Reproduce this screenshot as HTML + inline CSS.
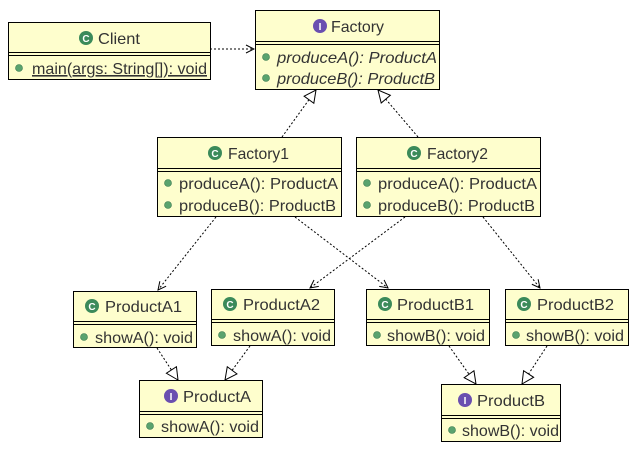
<!DOCTYPE html>
<html><head><style>body{margin:0;background:#fff}svg{display:block}text{font-family:"Liberation Sans",sans-serif;font-size:16px;fill:#333}</style></head><body>
<svg width="636" height="450" xmlns="http://www.w3.org/2000/svg">
<defs>
<marker id="tri" viewBox="0 0 14 14" refX="13" refY="7" markerWidth="14" markerHeight="14" markerUnits="userSpaceOnUse" orient="auto"><path d="M1,1 L13,7 L1,13 Z" fill="#fff" stroke="#000" stroke-width="1"/></marker>
<marker id="open" viewBox="0 0 10 10" refX="9" refY="5" markerWidth="10" markerHeight="10" markerUnits="userSpaceOnUse" orient="auto"><path d="M1,1 L9,5 L1,9" fill="none" stroke="#000" stroke-width="1"/></marker>
<g id="ci"><circle r="7" fill="#3b8a5a"/><text x="0" y="4" text-anchor="middle" style="font-size:10px;font-weight:bold;fill:#fff">C</text></g>
<g id="ii"><circle r="7" fill="#6a4fb0"/><text x="0" y="4" text-anchor="middle" style="font-size:10px;font-weight:bold;fill:#fff">I</text></g>
<circle id="dot" r="3.5" fill="#5aa36e" stroke="#3a7a50" stroke-width="0.6"/>
</defs>
<g stroke="#000" stroke-width="1" stroke-dasharray="2,2" fill="none">
<line x1="210" y1="49" x2="254" y2="49" marker-end="url(#open)"/>
<line x1="282" y1="137" x2="316" y2="90" marker-end="url(#tri)"/>
<line x1="418" y1="137" x2="378" y2="90" marker-end="url(#tri)"/>
<line x1="216" y1="217" x2="158" y2="290" marker-end="url(#open)"/>
<line x1="295" y1="217" x2="388" y2="288" marker-end="url(#open)"/>
<line x1="405" y1="217" x2="310" y2="288" marker-end="url(#open)"/>
<line x1="483" y1="217" x2="540" y2="288" marker-end="url(#open)"/>
<line x1="157" y1="348" x2="178" y2="380" marker-end="url(#tri)"/>
<line x1="250" y1="346" x2="225" y2="380" marker-end="url(#tri)"/>
<line x1="449" y1="346" x2="476" y2="384" marker-end="url(#tri)"/>
<line x1="547" y1="346" x2="522" y2="384" marker-end="url(#tri)"/>
</g>
<g stroke="#000" stroke-width="1" fill="#fefecd">
<rect x="8.5" y="22.5" width="202" height="57"/><line x1="8.5" y1="52.5" x2="210.5" y2="52.5"/><line x1="8.5" y1="55.5" x2="210.5" y2="55.5"/>
<rect x="255.5" y="10.5" width="184" height="79"/><line x1="255.5" y1="41.5" x2="439.5" y2="41.5"/><line x1="255.5" y1="44.5" x2="439.5" y2="44.5"/>
<rect x="157.5" y="137.5" width="184" height="79"/><line x1="157.5" y1="168.5" x2="341.5" y2="168.5"/><line x1="157.5" y1="171.5" x2="341.5" y2="171.5"/>
<rect x="356.5" y="137.5" width="184" height="79"/><line x1="356.5" y1="168.5" x2="540.5" y2="168.5"/><line x1="356.5" y1="171.5" x2="540.5" y2="171.5"/>
<rect x="73.5" y="291.5" width="123" height="56"/><line x1="73.5" y1="321.5" x2="196.5" y2="321.5"/><line x1="73.5" y1="324.5" x2="196.5" y2="324.5"/>
<rect x="211.5" y="289.5" width="123" height="56"/><line x1="211.5" y1="319.5" x2="334.5" y2="319.5"/><line x1="211.5" y1="322.5" x2="334.5" y2="322.5"/>
<rect x="366.5" y="289.5" width="123" height="56"/><line x1="366.5" y1="319.5" x2="489.5" y2="319.5"/><line x1="366.5" y1="322.5" x2="489.5" y2="322.5"/>
<rect x="505.5" y="289.5" width="123" height="56"/><line x1="505.5" y1="319.5" x2="628.5" y2="319.5"/><line x1="505.5" y1="322.5" x2="628.5" y2="322.5"/>
<rect x="139.5" y="380.5" width="123" height="57"/><line x1="139.5" y1="411.5" x2="262.5" y2="411.5"/><line x1="139.5" y1="414.5" x2="262.5" y2="414.5"/>
<rect x="441.5" y="384.5" width="119" height="57"/><line x1="441.5" y1="415.5" x2="560.5" y2="415.5"/><line x1="441.5" y1="418.5" x2="560.5" y2="418.5"/>
</g>
<use href="#ci" x="86" y="38"/><text x="98" y="44" textLength="42" lengthAdjust="spacingAndGlyphs">Client</text>
<use href="#ii" x="320" y="26"/><text x="331" y="32" textLength="53" lengthAdjust="spacingAndGlyphs">Factory</text>
<use href="#ci" x="215" y="153"/><text x="228" y="159" textLength="61" lengthAdjust="spacingAndGlyphs">Factory1</text>
<use href="#ci" x="414" y="153"/><text x="427" y="159" textLength="61" lengthAdjust="spacingAndGlyphs">Factory2</text>
<use href="#ci" x="92" y="306"/><text x="105" y="312" textLength="77" lengthAdjust="spacingAndGlyphs">ProductA1</text>
<use href="#ci" x="230" y="304"/><text x="243" y="310" textLength="77" lengthAdjust="spacingAndGlyphs">ProductA2</text>
<use href="#ci" x="385" y="304"/><text x="397" y="310" textLength="77" lengthAdjust="spacingAndGlyphs">ProductB1</text>
<use href="#ci" x="524" y="304"/><text x="537" y="310" textLength="77" lengthAdjust="spacingAndGlyphs">ProductB2</text>
<use href="#ii" x="171" y="396"/><text x="183" y="402" textLength="68" lengthAdjust="spacingAndGlyphs">ProductA</text>
<use href="#ii" x="465" y="400"/><text x="477" y="406" textLength="68" lengthAdjust="spacingAndGlyphs">ProductB</text>
<use href="#dot" x="19" y="68"/><text x="32" y="74" text-decoration="underline" textLength="175" lengthAdjust="spacingAndGlyphs">main(args: String[]): void</text>
<use href="#dot" x="266" y="57"/><text x="277" y="63" font-style="italic" textLength="160" lengthAdjust="spacingAndGlyphs">produceA(): ProductA</text>
<use href="#dot" x="266" y="78"/><text x="277" y="84" font-style="italic" textLength="158" lengthAdjust="spacingAndGlyphs">produceB(): ProductB</text>
<use href="#dot" x="168" y="183"/><text x="179" y="189" textLength="159" lengthAdjust="spacingAndGlyphs">produceA(): ProductA</text>
<use href="#dot" x="168" y="205"/><text x="179" y="211" textLength="157" lengthAdjust="spacingAndGlyphs">produceB(): ProductB</text>
<use href="#dot" x="367" y="183"/><text x="378" y="189" textLength="159" lengthAdjust="spacingAndGlyphs">produceA(): ProductA</text>
<use href="#dot" x="367" y="205"/><text x="378" y="211" textLength="157" lengthAdjust="spacingAndGlyphs">produceB(): ProductB</text>
<use href="#dot" x="84" y="337"/><text x="95" y="343" textLength="98" lengthAdjust="spacingAndGlyphs">showA(): void</text>
<use href="#dot" x="222" y="335"/><text x="233" y="341" textLength="98" lengthAdjust="spacingAndGlyphs">showA(): void</text>
<use href="#dot" x="377" y="335"/><text x="387" y="341" textLength="98" lengthAdjust="spacingAndGlyphs">showB(): void</text>
<use href="#dot" x="516" y="335"/><text x="526" y="341" textLength="98" lengthAdjust="spacingAndGlyphs">showB(): void</text>
<use href="#dot" x="150" y="426"/><text x="161" y="432" textLength="98" lengthAdjust="spacingAndGlyphs">showA(): void</text>
<use href="#dot" x="452" y="430"/><text x="462" y="436" textLength="97" lengthAdjust="spacingAndGlyphs">showB(): void</text>
</svg>
</body></html>
